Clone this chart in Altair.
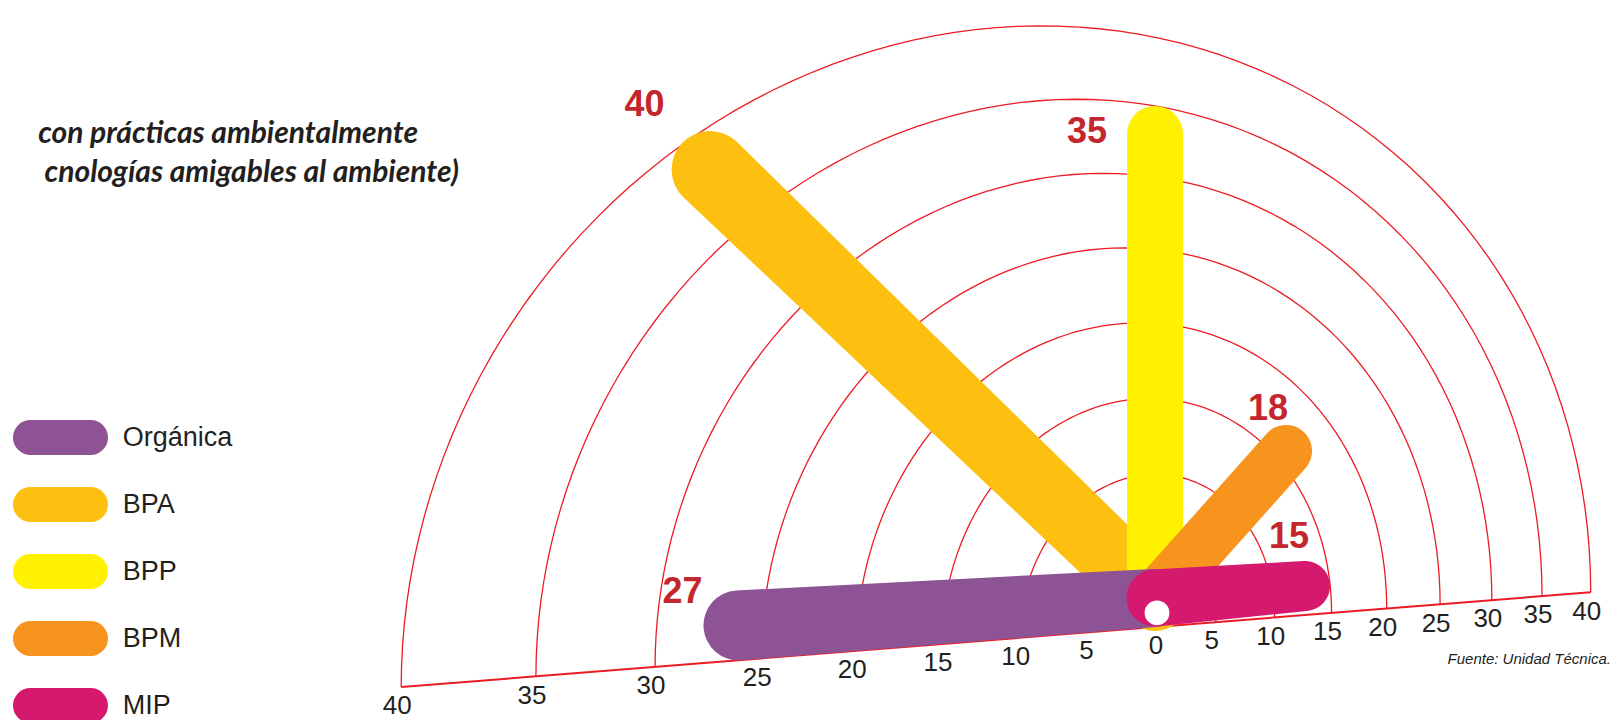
import altair as alt
import pandas as pd

# ---------------- data ----------------
categories = ["Orgánica", "BPA", "BPP", "BPM", "MIP"]
values = [27, 40, 35, 18, 15]
ring_values = [5, 10, 15, 20, 25, 30, 35, 40]
tick_values = [5, 10, 15, 20, 25, 30, 35, 40]
colors = ["#8E5394", "#FDC010", "#FFF100", "#F7941E", "#D4196F"]
title_lines = ["con prácticas ambientalmente", "cnologías amigables al ambiente)"]
source_note = "Fuente: Unidad Técnica."

# ---------------- style / geometry of the distorted half-polar grid ----------------
K, GL, GR, HK, TILT = 12.37, 0.00859, 0.00339, 15.3, 0.0797
SX, SY = 0, 29  # common start of the rods (in the sheared frame)
RED = "#EC1C24"
LABEL_RED = "#C4262E"
INK = "#231F20"
bar_style = {
    "Orgánica": dict(ang=179.2, w0=58, w1=70, ldx=-39, ldy=34, ext=18),
    "BPA": dict(ang=133.8, w0=66, w1=77, ldx=-39, ldy=39, ext=0),
    "BPP": dict(ang=90.0, w0=56, w1=56, ldx=-68, ldy=-26, ext=0),
    "BPM": dict(ang=46.2, w0=52, w1=52, ldx=-36, ldy=22, ext=0),
    "MIP": dict(ang=0.0, w0=57, w1=50, ldx=-41, ldy=47, ext=0),
}
draw_order = ["BPA", "BPP", "BPM", "Orgánica", "MIP"]

xs = alt.Scale(domain=[-1147, 457], nice=False, zero=False)
ys = alt.Scale(domain=[-93, 619], nice=False, zero=False)
cscale = alt.Scale(domain=categories, range=colors)


def L(v):
    return f"({K}*{v}/(1-{GL}*{v}))"


def R(v):
    return f"({K}*{v}/(1+{GR}*{v}))"


# ---------------- rings ----------------
rings = (
    alt.Chart(pd.DataFrame({"v": ring_values}))
    .transform_calculate(phi="sequence(0, 181, 2)")
    .transform_flatten(["phi"])
    .transform_calculate(Lr=L("datum.v"))
    .transform_calculate(Rr=R("datum.v"))
    .transform_calculate(
        gx="(datum.Rr-datum.Lr)/2 + (datum.Rr+datum.Lr)/2*cos(datum.phi*PI/180)"
    )
    .transform_calculate(gy=f"{HK}*datum.v*sin(datum.phi*PI/180) + {TILT}*datum.gx")
    .mark_line(color=RED, strokeWidth=1.3)
    .encode(
        x=alt.X("gx:Q", scale=xs, axis=None),
        y=alt.Y("gy:Q", scale=ys, axis=None),
        detail="v:N",
        order="phi:Q",
    )
)

baseline = (
    alt.Chart(pd.DataFrame({"v": [max(ring_values)]}))
    .transform_calculate(xl="-" + L("datum.v"))
    .transform_calculate(xr=R("datum.v"))
    .transform_calculate(yl=f"{TILT}*datum.xl", yr=f"{TILT}*datum.xr")
    .mark_rule(color=RED, strokeWidth=2)
    .encode(
        x=alt.X("xl:Q", scale=xs, axis=None),
        x2="xr:Q",
        y=alt.Y("yl:Q", scale=ys, axis=None),
        y2="yr:Q",
    )
)

# ---------------- rods ----------------
bars_df = pd.DataFrame({"cat": categories, "value": values})
for col in ["ang", "w0", "w1", "ldx", "ldy", "ext"]:
    bars_df[col] = [bar_style[c][col] for c in categories]

geom = (
    alt.Chart(bars_df)
    .transform_calculate(Lr=L("datum.value"))
    .transform_calculate(Rr=R("datum.value"))
    .transform_calculate(cx="(datum.Rr-datum.Lr)/2")
    .transform_calculate(ea="(datum.Rr+datum.Lr)/2")
    .transform_calculate(eh=f"{HK}*datum.value")
    .transform_calculate(ux="cos(datum.ang*PI/180)")
    .transform_calculate(uy="sin(datum.ang*PI/180)")
    .transform_calculate(
        qa="datum.ux*datum.ux/(datum.ea*datum.ea) + datum.uy*datum.uy/(datum.eh*datum.eh)"
    )
    .transform_calculate(
        qb=f"2*(({SX}-datum.cx)*datum.ux/(datum.ea*datum.ea) + {SY}*datum.uy/(datum.eh*datum.eh))"
    )
    .transform_calculate(
        qc=f"({SX}-datum.cx)*({SX}-datum.cx)/(datum.ea*datum.ea) + {SY*SY}/(datum.eh*datum.eh) - 1"
    )
    .transform_calculate(
        t="(-datum.qb + sqrt(datum.qb*datum.qb - 4*datum.qa*datum.qc))/(2*datum.qa)"
    )
    .transform_calculate(tipx=f"{SX} + datum.t*datum.ux")
    .transform_calculate(tipy=f"{SY} + datum.t*datum.uy + {TILT}*datum.tipx")
    .transform_calculate(ex=f"{SX} + (datum.t + datum.ext - datum.w1/2)*datum.ux")
    .transform_calculate(ey=f"{SY} + (datum.t + datum.ext - datum.w1/2)*datum.uy")
)

bar_layers = []
for c in draw_order:
    layer = (
        geom.transform_filter(alt.datum.cat == c)
        .transform_calculate(pts="[0, 1]")
        .transform_flatten(["pts"])
        .transform_calculate(px=f"datum.pts == 0 ? {SX} : datum.ex")
        .transform_calculate(py=f"(datum.pts == 0 ? {SY} : datum.ey) + {TILT}*datum.px")
        .transform_calculate(pw="datum.pts == 0 ? datum.w0 : datum.w1")
        .mark_trail()
        .encode(
            x=alt.X("px:Q", scale=xs, axis=None),
            y=alt.Y("py:Q", scale=ys, axis=None),
            size=alt.Size("pw:Q", scale=None, legend=None),
            color=alt.Color("cat:N", scale=cscale, legend=None),
            order="pts:Q",
        )
    )
    bar_layers.append(layer)

origin_dot = (
    alt.Chart(pd.DataFrame({"ox": [SX + 2], "oy": [SY - 15]}))
    .transform_calculate(oyy=f"datum.oy + {TILT}*datum.ox")
    .mark_circle(color="white", opacity=1, size=615)
    .encode(x=alt.X("ox:Q", scale=xs, axis=None), y=alt.Y("oyy:Q", scale=ys, axis=None))
)

value_labels = (
    geom.transform_calculate(lx="datum.tipx + datum.ldx")
    .transform_calculate(ly="datum.tipy + datum.ldy")
    .mark_text(
        font="Liberation Sans", fontSize=36, fontWeight="bold", color=LABEL_RED,
        align="center", baseline="middle",
    )
    .encode(
        x=alt.X("lx:Q", scale=xs, axis=None),
        y=alt.Y("ly:Q", scale=ys, axis=None),
        text="value:Q",
    )
)

# ---------------- tick labels along the tilted baseline ----------------
ticks_df = pd.DataFrame(
    {
        "v": [0] + tick_values + tick_values,
        "side": [0] + [-1] * len(tick_values) + [1] * len(tick_values),
    }
)
tick_labels = (
    alt.Chart(ticks_df)
    .transform_calculate(
        tx="datum.side < 0 ? -" + L("datum.v") + " - 4 : (datum.side > 0 ? " + R("datum.v") + " - 4 : 1)"
    )
    .transform_calculate(ty=f"{TILT}*datum.tx - 19")
    .mark_text(font="Liberation Sans", fontSize=26, color=INK, align="center", baseline="middle")
    .encode(
        x=alt.X("tx:Q", scale=xs, axis=None),
        y=alt.Y("ty:Q", scale=ys, axis=None),
        text="v:Q",
    )
)

# ---------------- custom legend ----------------
leg_df = pd.DataFrame({"cat": categories, "i": list(range(len(categories)))})
legend_pills = (
    alt.Chart(leg_df)
    .transform_calculate(ly="189.5 - 67*datum.i", lx1="-1124.5", lx2="-1064.5")
    .mark_rule(strokeWidth=35, strokeCap="round")
    .encode(
        x=alt.X("lx1:Q", scale=xs, axis=None),
        x2="lx2:Q",
        y=alt.Y("ly:Q", scale=ys, axis=None),
        color=alt.Color("cat:N", scale=cscale, legend=None),
    )
)
legend_text = (
    alt.Chart(leg_df)
    .transform_calculate(ly="189.5 - 67*datum.i", lx="-1032.3")
    .mark_text(font="Liberation Sans", fontSize=27, color=INK, align="left", baseline="middle")
    .encode(
        x=alt.X("lx:Q", scale=xs, axis=None),
        y=alt.Y("ly:Q", scale=ys, axis=None),
        text="cat:N",
    )
)

# ---------------- title fragment and source ----------------
title1 = alt.Chart(pd.DataFrame({"t": [title_lines[0]]})).mark_text(
    font="Lato", fontSize=30, fontWeight="bold", fontStyle="italic", color=INK,
    align="right", baseline="middle",
).encode(x=alt.value(410), y=alt.value(126), text="t:N")
title2 = alt.Chart(pd.DataFrame({"t": [title_lines[1]]})).mark_text(
    font="Lato", fontSize=30, fontWeight="bold", fontStyle="italic", color=INK,
    align="right", baseline="middle",
).encode(x=alt.value(451), y=alt.value(165), text="t:N")
source = alt.Chart(pd.DataFrame({"t": [source_note]})).mark_text(
    font="Liberation Sans Narrow, Liberation Sans", fontSize=15, fontStyle="italic",
    color=INK, align="right", baseline="middle",
).encode(x=alt.value(1603), y=alt.value(651), text="t:N")

chart = (
    alt.layer(
        rings, baseline, *bar_layers, origin_dot, value_labels, tick_labels,
        legend_pills, legend_text, title1, title2, source,
    )
    .properties(
        width=1604, height=712, autosize=alt.AutoSizeParams(type="none"),
        padding=0, background="white",
    )
    .configure_view(stroke=None)
)

chart.save("out.html", embed_options={"renderer": "svg", "actions": False})
